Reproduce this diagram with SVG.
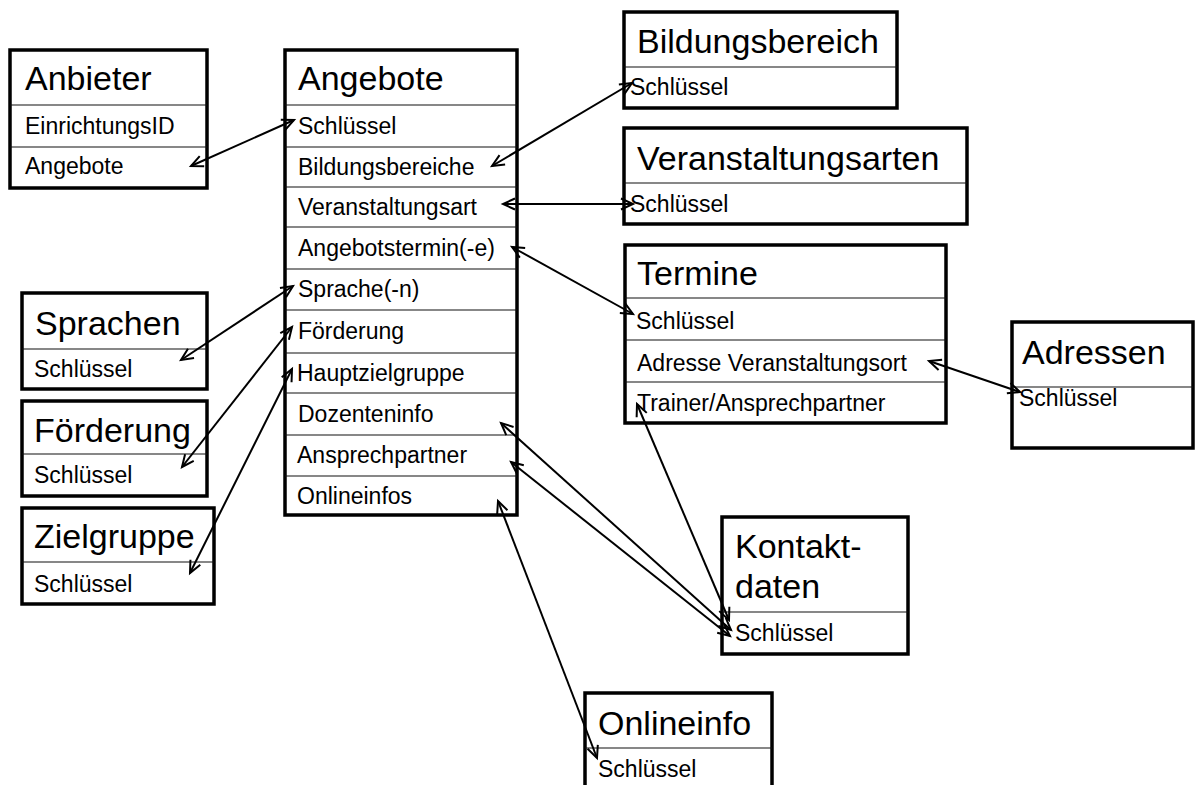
<svg xmlns="http://www.w3.org/2000/svg" width="1196" height="785" viewBox="0 0 1196 785">
<style>
.box{fill:#fff;stroke:#000;stroke-width:3.5}
.div{stroke:#111;stroke-width:1.2}
.t{font-family:"Liberation Sans",Arial,sans-serif;font-size:34px;fill:#000}
.r{font-family:"Liberation Sans",Arial,sans-serif;font-size:23px;fill:#000}
.c{fill:none;stroke:#000;stroke-width:2;marker-start:url(#a);marker-end:url(#a)}
</style>
<defs>
<marker id="a" markerUnits="userSpaceOnUse" markerWidth="14" markerHeight="12" refX="12" refY="5" orient="auto-start-reverse" overflow="visible">
<path d="M0,-0.5 L12,5 L0,10.5" fill="none" stroke="#000" stroke-width="2"/>
</marker>
</defs>
<rect width="1196" height="785" fill="#fff"/>

<g id="anbieter">
<rect class="box" x="10" y="50" width="197" height="138"/>
<line class="div" x1="10" y1="105" x2="207" y2="105"/>
<line class="div" x1="10" y1="147" x2="207" y2="147"/>
<text class="t" x="25" y="90">Anbieter</text>
<text class="r" x="25" y="134">EinrichtungsID</text>
<text class="r" x="25" y="174">Angebote</text>
</g>

<g id="angebote">
<rect class="box" x="285" y="50" width="232" height="465"/>
<line class="div" x1="285" y1="105" x2="517" y2="105"/>
<line class="div" x1="285" y1="147" x2="517" y2="147"/>
<line class="div" x1="285" y1="187" x2="517" y2="187"/>
<line class="div" x1="285" y1="227" x2="517" y2="227"/>
<line class="div" x1="285" y1="269" x2="517" y2="269"/>
<line class="div" x1="285" y1="310" x2="517" y2="310"/>
<line class="div" x1="285" y1="353" x2="517" y2="353"/>
<line class="div" x1="285" y1="393" x2="517" y2="393"/>
<line class="div" x1="285" y1="435" x2="517" y2="435"/>
<line class="div" x1="285" y1="476" x2="517" y2="476"/>
<text class="t" x="298" y="90">Angebote</text>
<text class="r" x="298" y="134">Schlüssel</text>
<text class="r" x="298" y="175">Bildungsbereiche</text>
<text class="r" x="298" y="215">Veranstaltungsart</text>
<text class="r" x="298" y="256">Angebotstermin(-e)</text>
<text class="r" x="298" y="297">Sprache(-n)</text>
<text class="r" x="298" y="339">Förderung</text>
<text class="r" x="297" y="381">Hauptzielgruppe</text>
<text class="r" x="298" y="422">Dozenteninfo</text>
<text class="r" x="297" y="463">Ansprechpartner</text>
<text class="r" x="297" y="504">Onlineinfos</text>
</g>

<g id="bildungsbereich">
<rect class="box" x="624" y="12" width="273" height="96"/>
<line class="div" x1="624" y1="67" x2="897" y2="67"/>
<text class="t" x="637" y="53">Bildungsbereich</text>
<text class="r" x="630" y="95">Schlüssel</text>
</g>

<g id="veranstaltungsarten">
<rect class="box" x="624" y="128" width="343" height="96"/>
<line class="div" x1="624" y1="183" x2="967" y2="183"/>
<text class="t" x="637" y="170">Veranstaltungsarten</text>
<text class="r" x="630" y="212">Schlüssel</text>
</g>

<g id="termine">
<rect class="box" x="625" y="245" width="321" height="178"/>
<line class="div" x1="625" y1="298" x2="946" y2="298"/>
<line class="div" x1="625" y1="340" x2="946" y2="340"/>
<line class="div" x1="625" y1="382" x2="946" y2="382"/>
<text class="t" x="637" y="285">Termine</text>
<text class="r" x="636" y="329">Schlüssel</text>
<text class="r" x="637" y="371">Adresse Veranstaltungsort</text>
<text class="r" x="637" y="411">Trainer/Ansprechpartner</text>
</g>

<g id="adressen">
<rect class="box" x="1012" y="322" width="181" height="126"/>
<line class="div" x1="1012" y1="387" x2="1193" y2="387"/>
<text class="t" x="1022" y="364">Adressen</text>
<text class="r" x="1019" y="406">Schlüssel</text>
</g>

<g id="sprachen">
<rect class="box" x="22" y="293" width="185" height="96"/>
<line class="div" x1="22" y1="349" x2="207" y2="349"/>
<text class="t" x="35" y="335">Sprachen</text>
<text class="r" x="34" y="377">Schlüssel</text>
</g>

<g id="foerderung">
<rect class="box" x="22" y="401" width="185" height="95"/>
<line class="div" x1="22" y1="454" x2="207" y2="454"/>
<text class="t" x="34" y="442">Förderung</text>
<text class="r" x="34" y="483">Schlüssel</text>
</g>

<g id="zielgruppe">
<rect class="box" x="22" y="508" width="192" height="96"/>
<line class="div" x1="22" y1="562" x2="214" y2="562"/>
<text class="t" x="34" y="548">Zielgruppe</text>
<text class="r" x="34" y="592">Schlüssel</text>
</g>

<g id="kontaktdaten">
<rect class="box" x="722" y="517" width="186" height="137"/>
<line class="div" x1="722" y1="612" x2="908" y2="612"/>
<text class="t" x="735" y="558">Kontakt-</text>
<text class="t" x="735" y="598">daten</text>
<text class="r" x="735" y="641">Schlüssel</text>
</g>

<g id="onlineinfo">
<rect class="box" x="585" y="693" width="187" height="110"/>
<line class="div" x1="585" y1="748" x2="772" y2="748"/>
<text class="t" x="598" y="735">Onlineinfo</text>
<text class="r" x="598" y="777">Schlüssel</text>
</g>

<g id="connectors">
<line class="c" x1="191" y1="166" x2="294" y2="120"/>
<line class="c" x1="492" y1="166" x2="632" y2="83"/>
<line class="c" x1="503" y1="204" x2="633" y2="204"/>
<line class="c" x1="512" y1="247" x2="633" y2="314"/>
<line class="c" x1="929" y1="361" x2="1020" y2="392"/>
<line class="c" x1="181" y1="360" x2="293" y2="286"/>
<line class="c" x1="182" y1="467" x2="292" y2="327"/>
<line class="c" x1="190" y1="573" x2="292" y2="369"/>
<line class="c" x1="501" y1="423" x2="731" y2="630"/>
<line class="c" x1="511" y1="462" x2="730" y2="636"/>
<line class="c" x1="498" y1="501" x2="597" y2="758"/>
<line class="c" x1="637" y1="404" x2="729" y2="620"/>
</g>
</svg>
